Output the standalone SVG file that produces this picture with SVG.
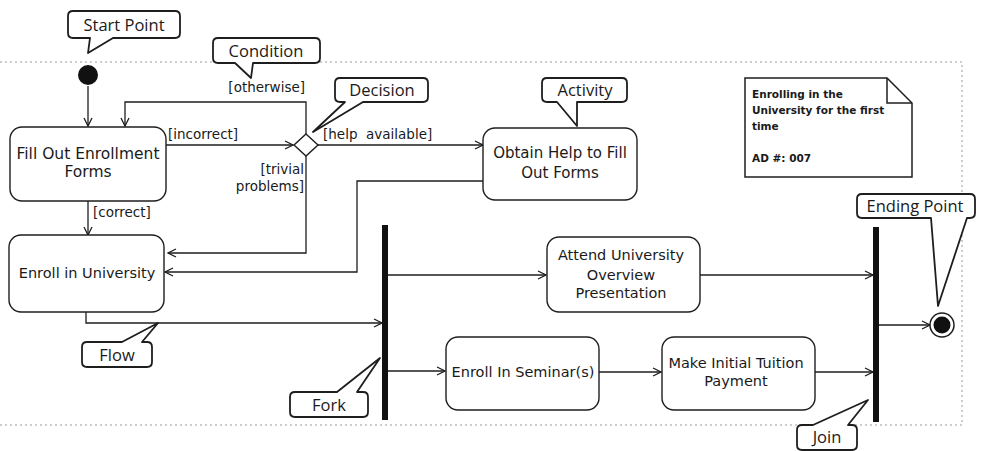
<svg xmlns="http://www.w3.org/2000/svg" width="981" height="451" viewBox="0 0 981 451">
  <style>
    .frame { fill: none; stroke: #9a9a9a; stroke-width: 1; stroke-dasharray: 2 3; }
    .node rect, .node path.box { fill: #fff; stroke: #1e1e1e; stroke-width: 1.4; }
    .node text { font-family: "DejaVu Sans", sans-serif; font-size: 14.5px; fill: #1a1a1a; text-anchor: middle; }
    .callout path { fill: #fff; stroke: #1e1e1e; stroke-width: 1.8; stroke-linejoin: round; }
    .callout text { font-family: "Open Sans", "DejaVu Sans", sans-serif; font-size: 16.5px; fill: #1a1a1a; text-anchor: middle; }
    .flow path { fill: none; stroke: #1e1e1e; stroke-width: 1.3; marker-end: url(#arrow); }
    .guard { font-family: "DejaVu Sans", sans-serif; font-size: 13.5px; fill: #1a1a1a; }
    .bar { fill: #111; }
    .note text { font-family: "DejaVu Sans", sans-serif; font-weight: bold; font-size: 10.5px; fill: #1a1a1a; }
  </style>
  <defs>
    <marker id="arrow" markerUnits="userSpaceOnUse" viewBox="0 0 10 10" refX="9" refY="5" markerWidth="10" markerHeight="10" orient="auto">
      <path d="M1,1 L9,5 L1,9" fill="none" stroke="#1e1e1e" stroke-width="1.3"/>
    </marker>
  </defs>

  <rect width="981" height="451" fill="#fff"/>

  <!-- diagram frame -->
  <g id="frame">
    <path class="frame" d="M0,62 H962 V425 H0"/>
  </g>

  <!-- connectors -->
  <g id="connectors" class="flow">
    <path d="M88,86 V126"/>
    <path d="M166,145 H293"/>
    <path d="M306,134 V102 H125 V126"/>
    <path d="M318,145 H483"/>
    <path d="M306,156 V253 H168"/>
    <path d="M483,181 H357 V272 H165"/>
    <path d="M88,201 V235"/>
    <path d="M86,312 V323 H382"/>
    <path d="M388,275 H546"/>
    <path d="M388,371 H445"/>
    <path d="M599,372 H661"/>
    <path d="M700,275 H873"/>
    <path d="M815,372 H873"/>
    <path d="M879,325 H930"/>
  </g>

  <!-- guard labels -->
  <g id="guards" class="guard">
    <text x="305" y="92" text-anchor="end">[otherwise]</text>
    <text x="168" y="139">[incorrect]</text>
    <text x="323" y="139">[help&#160; available]</text>
    <text x="304" y="174" text-anchor="end">[trivial</text>
    <text x="304" y="191" text-anchor="end">problems]</text>
    <text x="93" y="217">[correct]</text>
  </g>

  <!-- start node -->
  <g id="start">
    <circle cx="88" cy="75" r="10" fill="#111"/>
  </g>

  <!-- decision node -->
  <g id="decision">
    <path d="M306,134 L318,145 L306,156 L294,145 Z" fill="#fff" stroke="#1e1e1e" stroke-width="1.4"/>
  </g>

  <!-- activities -->
  <g id="fill-out-forms" class="node">
    <rect x="10" y="127" width="156" height="74" rx="12"/>
    <text x="88" y="159" style="font-size:15.5px">Fill Out Enrollment</text>
    <text x="88" y="177" style="font-size:15.5px">Forms</text>
  </g>
  <g id="obtain-help" class="node">
    <rect x="483" y="128" width="154" height="72" rx="12"/>
    <text x="560" y="158" style="font-size:15px">Obtain Help to Fill</text>
    <text x="560" y="178" style="font-size:15px">Out Forms</text>
  </g>
  <g id="enroll-university" class="node">
    <rect x="9" y="235" width="155" height="77" rx="12"/>
    <text x="87" y="278">Enroll in University</text>
  </g>
  <g id="attend-overview" class="node">
    <rect x="547" y="237" width="153" height="75" rx="12"/>
    <text x="621" y="260">Attend University</text>
    <text x="621" y="280">Overview</text>
    <text x="621" y="298">Presentation</text>
  </g>
  <g id="enroll-seminars" class="node">
    <rect x="446" y="337" width="153" height="73" rx="12"/>
    <text x="523" y="377">Enroll In Seminar(s)</text>
  </g>
  <g id="tuition-payment" class="node">
    <rect x="662" y="337" width="153" height="73" rx="12"/>
    <text x="736" y="368">Make Initial Tuition</text>
    <text x="736" y="386">Payment</text>
  </g>

  <!-- fork and join bars -->
  <g id="fork">
    <rect class="bar" x="382" y="225" width="6" height="195"/>
  </g>
  <g id="join">
    <rect class="bar" x="873" y="227" width="6" height="195"/>
  </g>

  <!-- end node -->
  <g id="end">
    <circle cx="942" cy="325" r="12" fill="#fff" stroke="#1e1e1e" stroke-width="1.5"/>
    <circle cx="942" cy="325" r="8.5" fill="#111"/>
  </g>

  <!-- note -->
  <g id="note" class="note">
    <path d="M745,78 H887 L912,103 V177 H745 Z" fill="#fff" stroke="#1e1e1e" stroke-width="1.5"/>
    <path d="M887,78 V103 H912" fill="none" stroke="#1e1e1e" stroke-width="1.5"/>
    <text x="752" y="98">Enrolling in the</text>
    <text x="752" y="114">University for the first</text>
    <text x="752" y="130">time</text>
    <text x="752" y="162">AD #: 007</text>
  </g>

  <!-- callouts -->
  <g id="callout-start" class="callout">
    <path d="M73,11 H175 Q180,11 180,16 V33 Q180,38 175,38 H113 L88,53 L90,38 H73 Q68,38 68,33 V16 Q68,11 73,11 Z"/>
    <text x="124" y="31">Start Point</text>
  </g>
  <g id="callout-condition" class="callout">
    <path d="M218,38 H315 Q320,38 320,43 V58 Q320,63 315,63 H253 L251,78 L235,63 H218 Q213,63 213,58 V43 Q213,38 218,38 Z"/>
    <text x="266" y="57">Condition</text>
  </g>
  <g id="callout-decision" class="callout">
    <path d="M340,78 H423 Q428,78 428,83 V97 Q428,102 423,102 H363 L313,132 L345,102 H340 Q335,102 335,97 V83 Q335,78 340,78 Z"/>
    <text x="382" y="96">Decision</text>
  </g>
  <g id="callout-activity" class="callout">
    <path d="M547,78 H622 Q627,78 627,83 V97 Q627,102 622,102 H577 L577,126 L557,102 H547 Q542,102 542,97 V83 Q542,78 547,78 Z"/>
    <text x="585" y="96">Activity</text>
  </g>
  <g id="callout-ending" class="callout">
    <path d="M862,194 H970 Q975,194 975,199 V213 Q975,218 970,218 H967 L938,306 L931,218 H862 Q857,218 857,213 V199 Q857,194 862,194 Z"/>
    <text x="915" y="212">Ending Point</text>
  </g>
  <g id="callout-flow" class="callout">
    <path d="M87,342 H122 L158,323 L142,342 H147 Q152,342 152,347 V362 Q152,367 147,367 H87 Q82,367 82,362 V347 Q82,342 87,342 Z"/>
    <text x="117" y="361">Flow</text>
  </g>
  <g id="callout-fork" class="callout">
    <path d="M295,392 H337 L380,358 L357,392 H363 Q368,392 368,397 V412 Q368,417 363,417 H295 Q290,417 290,412 V397 Q290,392 295,392 Z"/>
    <text x="329" y="411">Fork</text>
  </g>
  <g id="callout-join" class="callout">
    <path d="M802,425 H813 L868,400 L848,425 H852 Q857,425 857,430 V445 Q857,450 852,450 H802 Q797,450 797,445 V430 Q797,425 802,425 Z"/>
    <text x="827" y="443">Join</text>
  </g>
</svg>
